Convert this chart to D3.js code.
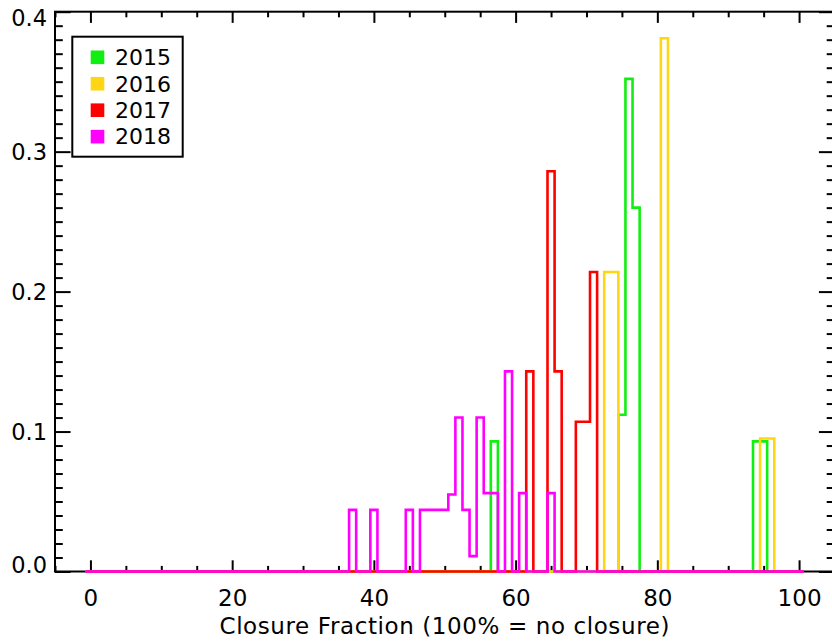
<!DOCTYPE html>
<html>
<head>
  <meta charset="utf-8">
  <title>closure fraction histogram</title>
  <script src="https://cdn.jsdelivr.net/npm/d3@7"></script>
  <style>
    body{margin:0;background:#fff;}
    text{font-family:"DejaVu Sans",sans-serif;fill:#000;}
  </style>
</head>
<body>
<div id="container"></div>
<script>
  // bin centres (percent) and normalised counts for each year
  var years = ["2015","2016","2017","2018"];
  var colors = ["#11ee11","#ffd514","#ff0000","#ff00ff"];

  var bins2015 = [57, 75, 76, 77, 94, 95];
  var freq2015 = [0.093, 0.112, 0.352, 0.260, 0.093, 0.093];

  var bins2016 = [73, 74, 81, 95, 96];
  var freq2016 = [0.214, 0.214, 0.381, 0.095, 0.095];

  var bins2017 = [62, 65, 66, 69, 70, 71];
  var freq2017 = [0.143, 0.286, 0.143, 0.107, 0.107, 0.214];

  var bins2018 = [37, 40, 45, 47, 48, 49, 50, 51, 52, 53, 54, 55, 56, 57, 59, 61, 65];
  var freq2018 = [0.044, 0.044, 0.044, 0.044, 0.044, 0.044, 0.044, 0.055, 0.110, 0.044, 0.011, 0.110, 0.056, 0.056, 0.143, 0.056, 0.056];

  var xMajor = [0, 20, 40, 60, 80, 100];
  var yMajor = [0.0, 0.1, 0.2, 0.3, 0.4];
  var xTitle = "Closure Fraction (100% = no closure)";

  var W = 832, H = 642;
  var pLeft = 55, pRight = 834.5, pTop = 11.7, pBottom = 571.5;

  var svg = d3.select("#container").append("svg")
      .attr("width", W)
      .attr("height", H);

  var x = d3.scaleLinear().domain([-5, 105]).range([pLeft, pRight]);
  var y = d3.scaleLinear().domain([0, 0.4]).range([pBottom, pTop]);

  var xTickMaj = (pBottom - pTop) * 0.02, xTickMin = xTickMaj / 2;
  var yTickMaj = (pRight - pLeft) * 0.02, yTickMin = yTickMaj / 2;

  var xMinor = d3.range(-5, 106, 5).filter(function(d){ return xMajor.indexOf(d) < 0; });
  var yMinor = d3.range(0, 41, 1).filter(function(d){ return d % 10 != 0; })
      .map(function(d){ return d / 100; });

  function styleAxis(g){
    g.select(".domain").remove();
    g.selectAll(".tick line").attr("stroke", "#000").attr("stroke-width", 2);
  }

  // bottom
  svg.append("g").attr("transform", "translate(0," + pBottom + ")")
    .call(d3.axisBottom(x).tickValues(xMajor).tickSize(-xTickMaj).tickPadding(18).tickFormat(d3.format("d")))
    .call(styleAxis)
    .selectAll("text").style("font-size", "23px");
  svg.append("g").attr("transform", "translate(0," + pBottom + ")")
    .call(d3.axisBottom(x).tickValues(xMinor).tickSize(-xTickMin).tickFormat(""))
    .call(styleAxis);

  // top
  svg.append("g").attr("transform", "translate(0," + pTop + ")")
    .call(d3.axisTop(x).tickValues(xMajor).tickSize(-xTickMaj).tickFormat(""))
    .call(styleAxis);
  svg.append("g").attr("transform", "translate(0," + pTop + ")")
    .call(d3.axisTop(x).tickValues(xMinor).tickSize(-xTickMin).tickFormat(""))
    .call(styleAxis);

  // left
  svg.append("g").attr("transform", "translate(" + pLeft + ",0)")
    .call(d3.axisLeft(y).tickValues(yMajor).tickSize(-yTickMaj).tickPadding(8).tickFormat(d3.format(".1f")))
    .call(styleAxis)
    .selectAll("text")
    .style("font-size", "22.5px")
    .attr("dy", function(d){
      if(d == 0.4) return "0.62em";
      if(d == 0) return "0.06em";
      return "0.35em";
    });
  svg.append("g").attr("transform", "translate(" + pLeft + ",0)")
    .call(d3.axisLeft(y).tickValues(yMinor).tickSize(-yTickMin).tickFormat(""))
    .call(styleAxis);

  // right
  svg.append("g").attr("transform", "translate(" + pRight + ",0)")
    .call(d3.axisRight(y).tickValues(yMajor).tickSize(-yTickMaj).tickFormat(""))
    .call(styleAxis);
  svg.append("g").attr("transform", "translate(" + pRight + ",0)")
    .call(d3.axisRight(y).tickValues(yMinor).tickSize(-yTickMin).tickFormat(""))
    .call(styleAxis);

  svg.append("rect")
    .attr("x", pLeft).attr("y", pTop)
    .attr("width", pRight - pLeft).attr("height", pBottom - pTop)
    .attr("fill", "none").attr("stroke", "#000").attr("stroke-width", 2);

  svg.append("text")
    .attr("x", (pLeft + pRight) / 2)
    .attr("y", 634)
    .attr("text-anchor", "middle")
    .style("font-size", "23px")
    .style("letter-spacing", "0.6px")
    .text(xTitle);

  // histograms, step outline over bins 0..100
  var allBins = [bins2015, bins2016, bins2017, bins2018];
  var allFreq = [freq2015, freq2016, freq2017, freq2018];

  var stepLine = d3.line()
    .x(function(d){ return x(d[0]); })
    .y(function(d){ return y(d[1]); })
    .curve(d3.curveStepAfter);

  for(var s = 0; s < years.length; s++){
    var pts = [];
    for(var b = 0; b <= 100; b++){
      var k = allBins[s].indexOf(b);
      pts.push([b - 0.5, k < 0 ? 0 : allFreq[s][k]]);
    }
    pts.push([100.5, pts[pts.length - 1][1]]);

    svg.append("path")
      .datum(pts)
      .attr("d", stepLine)
      .attr("fill", "none")
      .attr("stroke", colors[s])
      .attr("stroke-width", 2.6)
      .attr("stroke-linecap", "square")
      .attr("class", "hist y" + years[s]);
  }

  // legend
  var leg = svg.append("g").attr("class", "legend");
  leg.append("rect")
    .attr("x", 72.3).attr("y", 36.7)
    .attr("width", 110.4).attr("height", 120)
    .attr("fill", "#fff").attr("stroke", "#000").attr("stroke-width", 2);

  years.forEach(function(yr, i){
    var cy = 57.3 + i * 26.45;
    leg.append("rect")
      .attr("x", 90.7).attr("y", cy - 6.8)
      .attr("width", 13.6).attr("height", 13.6)
      .attr("fill", colors[i]);
    leg.append("text")
      .attr("x", 115).attr("y", cy + 7.8)
      .style("font-size", "22px")
      .text(yr);
  });
</script>
</body>
</html>
